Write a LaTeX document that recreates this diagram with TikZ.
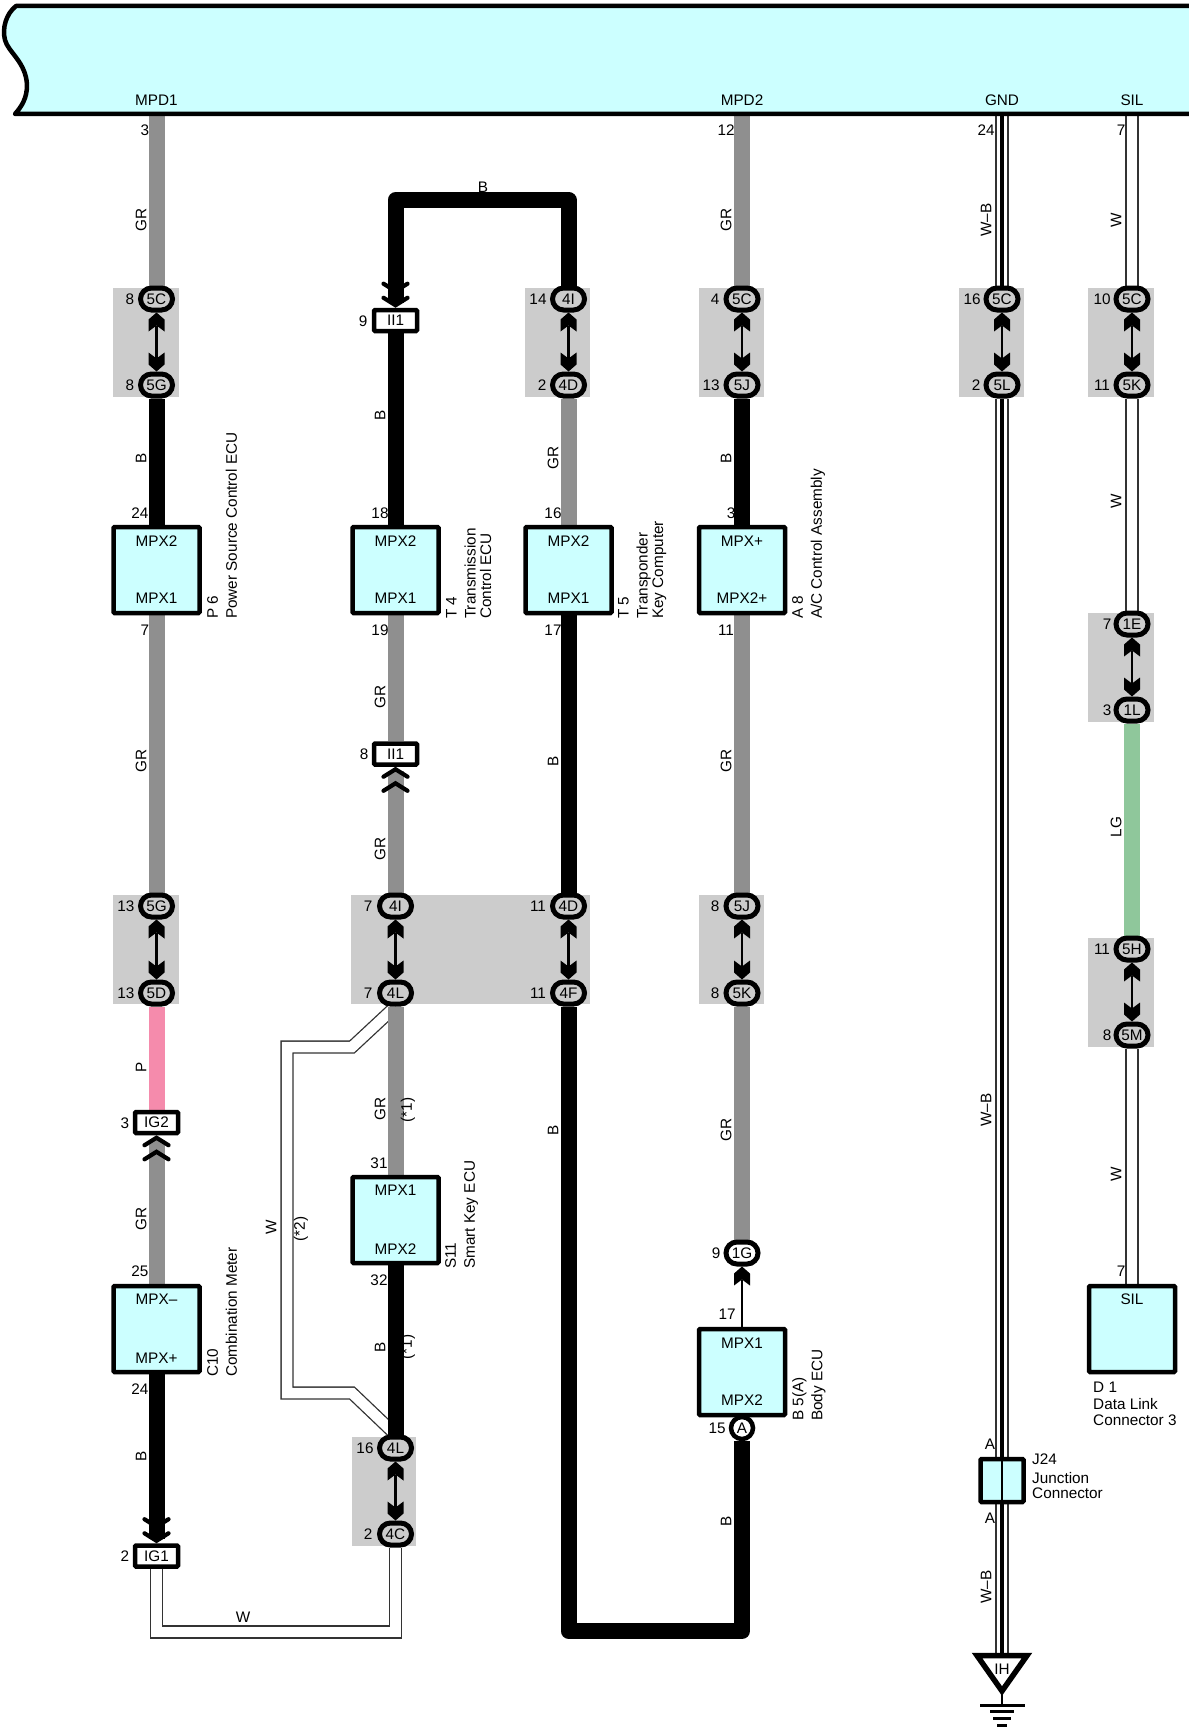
\documentclass[tikz,border=0pt]{standalone}
\usepackage{fontspec}
\setmainfont{Liberation Sans}
\usetikzlibrary{arrows.meta,backgrounds}
\definecolor{boxcyan}{HTML}{CCFFFF}
\definecolor{zonegray}{HTML}{CCCCCC}
\definecolor{wiregray}{HTML}{8F8F8F}
\definecolor{wirepink}{HTML}{F58BAC}
\definecolor{wiregreen}{HTML}{8FC79B}
\definecolor{wireedge}{HTML}{333333}
\pgfdeclarearrow{
  name=PlugTip,
  setup code={
    \pgfarrowssettipend{0pt}
    \pgfarrowssetbackend{-19pt}
    \pgfarrowssetvisualbackend{-13pt}
    \pgfarrowssetlineend{-13pt}
    \pgfarrowshullpoint{0pt}{0pt}
    \pgfarrowsupperhullpoint{-7pt}{8pt}
    \pgfarrowsupperhullpoint{-19pt}{8pt}
  },
  drawing code={
    \pgfpathmoveto{\pgfqpoint{0pt}{0pt}}
    \pgfpathlineto{\pgfqpoint{-7pt}{8pt}}
    \pgfpathlineto{\pgfqpoint{-19pt}{8pt}}
    \pgfpathlineto{\pgfqpoint{-13pt}{0pt}}
    \pgfpathlineto{\pgfqpoint{-19pt}{-8pt}}
    \pgfpathlineto{\pgfqpoint{-7pt}{-8pt}}
    \pgfpathclose
    \pgfusepathqfill
  }
}
\tikzset{
  every node/.style={font=\fontsize{15.3}{15.5}\selectfont, inner sep=0pt},
  barbs/.tip={Straight Barb[black,length=7.5pt,width=24pt,line width=4.2pt,line cap=round,sep=2pt]Straight Barb[black,length=7.5pt,width=24pt,line width=4.2pt,line cap=round]},
  zone/.style={fill=zonegray},
  wireGR/.style={draw=wiregray, line width=16pt},
  wireB/.style={draw=black, line width=16pt, line join=round},
  wireP/.style={draw=wirepink, line width=16pt},
  wireLG/.style={draw=wiregreen, line width=16pt},
  wireW/.style={draw=wireedge, line width=1.3pt, double=white, double distance=10.5pt},
  wireWB/.style={wireW, postaction={draw=black, line width=4pt, double=none}},
  plugline/.style={draw=black, line width=2.4pt},
  pairlink/.style={plugline, arrows=PlugTip-PlugTip},
  conn/.style={draw=black, fill=zonegray, line width=5pt, minimum width=32pt, minimum height=22pt, rounded corners=11pt},
  plugbox/.style={draw=black, fill=white, line width=4.5pt, minimum width=43pt, minimum height=21pt, rounded corners=1pt},
  ecubox/.style={draw=black, fill=boxcyan, line width=4.5pt, minimum width=86pt, minimum height=86pt, rounded corners=1pt, align=center},
  sidetext/.style={rotate=90, anchor=north west, align=left},
  wirelabel/.style={rotate=90},
}
\begin{document}
\begin{tikzpicture}[x=1pt,y=-1pt]
  \useasboundingbox (0,0) rectangle (1188,1728);
  % top unit
  \draw[fill=boxcyan, line width=4.5pt, line join=round] (1195,6) -- (16,6) .. controls (6,14) and (2,28) .. (5,40) .. controls (8,52) and (26,62) .. (27,85) .. controls (27,98) and (22,106) .. (15,114) -- (1195,114);
  \node (mpd1txt) at (156.5,100.5) {MPD1};
  \node (mpd2txt) at (742,100.5) {MPD2};
  \node (gndtxt) at (1002,100.5) {GND};
  \node (siltxt) at (1132,100.5) {SIL};
  \coordinate (mpd1) at (156.5,112);
  \coordinate (mpd2) at (742,112);
  \coordinate (gnd) at (1002,112);
  \coordinate (sil) at (1132,112);

  % first column
  \node (c1a) [conn] at (156.5,299) {5C};
  \node (c1b) [conn] at (156.5,385) {5G};
  \node (p6) [ecubox] at (156.5,570) {MPX2\\[41.5pt]MPX1};
  \node (p6txt) [sidetext] at (207,619) {P 6\\[3.5pt]Power Source Control ECU};
  \node (c1c) [conn] at (156.5,906) {5G};
  \node (c1d) [conn] at (156.5,993) {5D};
  \node (ig2) [plugbox] at (156.5,1122.5) {IG2};
  \node (c10) [ecubox] at (156.5,1329) {MPX--\\[43.5pt]MPX+};
  \node (c10txt) [sidetext] at (207,1377) {C10\\[3.5pt]Combination Meter};
  \node (ig1) [plugbox] at (156.5,1556) {IG1};

  % second column
  \node (ii1a) [plugbox] at (395.5,320.5) {II1};
  \node (t4) [ecubox] at (395.5,570) {MPX2\\[41.5pt]MPX1};
  \node (t4txt) [sidetext] at (446,619) {T 4\\[3.5pt]Transmission\\Control ECU};
  \node (ii1b) [plugbox] at (395.5,754) {II1};
  \node (c2a) [conn] at (395.5,906) {4I};
  \node (c2b) [conn] at (395.5,993) {4L};
  \node (s11) [ecubox] at (395.5,1220) {MPX1\\[43.5pt]MPX2};
  \node (s11txt) [sidetext] at (445,1269) {S11\\[3.5pt]Smart Key ECU};
  \node (c2c) [conn] at (395.5,1448) {4L};
  \node (c2d) [conn] at (395.5,1534) {4C};

  % third column
  \node (c3a) [conn] at (568.5,299) {4I};
  \node (c3b) [conn] at (568.5,385) {4D};
  \node (t5) [ecubox] at (568.5,570) {MPX2\\[41.5pt]MPX1};
  \node (t5txt) [sidetext] at (618,619) {T 5\\[3.5pt]Transponder\\Key Computer};
  \node (c3c) [conn] at (568.5,906) {4D};
  \node (c3d) [conn] at (568.5,993) {4F};

  % fourth column
  \node (c4a) [conn] at (742,299) {5C};
  \node (c4b) [conn] at (742,385) {5J};
  \node (a8) [ecubox] at (742,570) {MPX+\\[41.5pt]MPX2+};
  \node (a8txt) [sidetext] at (792,619) {A 8\\[3.5pt]A/C Control Assembly};
  \node (c4c) [conn] at (742,906) {5J};
  \node (c4d) [conn] at (742,993) {5K};
  \node (c4e) [conn, fill=white] at (742,1253) {1G};
  \node (b5) [ecubox] at (742,1372) {MPX1\\[41.5pt]MPX2};
  \node (b5txt) [sidetext] at (792,1421) {B 5(A)\\[3.5pt]Body ECU};
  \node (b5a) [draw=black, fill=white, line width=4.5pt, circle, minimum size=22pt] at (742,1428) {A};

  % fifth column
  \node (c5a) [conn] at (1002,299) {5C};
  \node (c5b) [conn] at (1002,385) {5L};
  \node (j24) [ecubox, minimum width=43pt, minimum height=43pt] at (1002,1480.5) {};
  \node (j24txt) [anchor=north west, align=left] at (1032,1453.5) {J24\\[3.5pt]Junction\\Connector};
  \coordinate (ihtop) at (1002,1656);

  % sixth column
  \node (c6a) [conn] at (1132,299) {5C};
  \node (c6b) [conn] at (1132,385) {5K};
  \node (c6c) [conn] at (1132,624) {1E};
  \node (c6d) [conn] at (1132,710) {1L};
  \node (c6e) [conn] at (1132,949) {5H};
  \node (c6f) [conn] at (1132,1035) {5M};
  \node (d1) [ecubox] at (1132,1329) {SIL\\[39.5pt]\strut};
  \node (d1txt) [anchor=north west, align=left] at (1093,1381.5) {D 1\\[2pt]Data Link\\Connector 3};

  % pin numbers
  \node (n1) at (145,130) {3};
  \node (n2) at (130,299) {8};
  \node (n3) at (130,385) {8};
  \node (n4) at (140,513) {24};
  \node (n5) at (145,630) {7};
  \node (n6) at (126,906) {13};
  \node (n7) at (126,993) {13};
  \node (n8) at (125,1123) {3};
  \node (n9) at (140,1271) {25};
  \node (n10) at (140,1389) {24};
  \node (n11) at (125,1556) {2};
  \node (n12) at (363,321) {9};
  \node (n13) at (380,513) {18};
  \node (n14) at (380,630) {19};
  \node (n15) at (364,754) {8};
  \node (n16) at (368,906) {7};
  \node (n17) at (368,993) {7};
  \node (n18) at (379,1163) {31};
  \node (n19) at (379,1280) {32};
  \node (n20) at (365,1448) {16};
  \node (n21) at (368,1534) {2};
  \node (n22) at (538,299) {14};
  \node (n23) at (542,385) {2};
  \node (n24) at (553,513) {16};
  \node (n25) at (553,630) {17};
  \node (n26) at (538,906) {11};
  \node (n27) at (538,993) {11};
  \node (n28) at (726,130) {12};
  \node (n29) at (715,299) {4};
  \node (n30) at (711,385) {13};
  \node (n31) at (731,513) {3};
  \node (n32) at (726,630) {11};
  \node (n33) at (715,906) {8};
  \node (n34) at (715,993) {8};
  \node (n35) at (716,1253) {9};
  \node (n36) at (727,1314) {17};
  \node (n37) at (717,1428) {15};
  \node (n38) at (986,130) {24};
  \node (n39) at (972,299) {16};
  \node (n40) at (976,385) {2};
  \node (n41) at (990,1444) {A};
  \node (n42) at (990,1518) {A};
  \node (n43) at (1121,130) {7};
  \node (n44) at (1102,299) {10};
  \node (n45) at (1102,385) {11};
  \node (n46) at (1107,624) {7};
  \node (n47) at (1107,710) {3};
  \node (n48) at (1102,949) {11};
  \node (n49) at (1107,1035) {8};
  \node (n50) at (1121,1271) {7};

  % wire colours
  \node (w1) [wirelabel] at (141,220) {GR};
  \node (w2) [wirelabel] at (141,458) {B};
  \node (w3) [wirelabel] at (141,761) {GR};
  \node (w4) [wirelabel] at (141,1067) {P};
  \node (w5) [wirelabel] at (141,1219) {GR};
  \node (w6) [wirelabel] at (141,1456) {B};
  \node (w7) at (483,187) {B};
  \node (w8) [wirelabel] at (380,415) {B};
  \node (w9) [wirelabel] at (380,697) {GR};
  \node (w10) [wirelabel] at (380,849) {GR};
  \node (w11) [wirelabel] at (380,1109) {GR};
  \node (w12) [wirelabel] at (408,1110) {(*1)};
  \node (w13) [wirelabel] at (380,1347) {B};
  \node (w14) [wirelabel] at (408,1347) {(*1)};
  \node (w15) [wirelabel] at (271,1227) {W};
  \node (w16) [wirelabel] at (301,1229) {(*2)};
  \node (w17) at (243,1617) {W};
  \node (w18) [wirelabel] at (553,458) {GR};
  \node (w19) [wirelabel] at (553,761) {B};
  \node (w20) [wirelabel] at (553,1130) {B};
  \node (w21) [wirelabel] at (726,220) {GR};
  \node (w22) [wirelabel] at (726,458) {B};
  \node (w23) [wirelabel] at (726,761) {GR};
  \node (w24) [wirelabel] at (726,1130) {GR};
  \node (w25) [wirelabel] at (726,1521) {B};
  \node (w26) [wirelabel] at (986,220) {W--B};
  \node (w27) [wirelabel] at (986,1110) {W--B};
  \node (w28) [wirelabel] at (986,1587) {W--B};
  \node (w29) [wirelabel] at (1116,220) {W};
  \node (w30) [wirelabel] at (1116,501) {W};
  \node (w31) [wirelabel] at (1116,827) {LG};
  \node (w32) [wirelabel] at (1116,1174) {W};

  \coordinate (btopr) at (568.5,200);
  \coordinate (btopl) at (395.5,200);
  \coordinate (bbotl) at (568.5,1631);
  \coordinate (bbotr) at (742,1631);
  \coordinate (wbotl) at (156.5,1632);
  \coordinate (wbotr) at (395.5,1632);
  \coordinate (wup1) at (352,1047);
  \coordinate (wup2) at (287,1047);
  \coordinate (wup3) at (287,1393);
  \coordinate (wup4) at (352,1393);

  \begin{pgfonlayer}{background}
    \fill[zone] (113,288) rectangle (179,397);
    \fill[zone] (525,288) rectangle (590,397);
    \fill[zone] (699,288) rectangle (764,397);
    \fill[zone] (959,288) rectangle (1024,397);
    \fill[zone] (1088,288) rectangle (1154,397);
    \fill[zone] (1088,613) rectangle (1154,722);
    \fill[zone] (1088,938) rectangle (1154,1047);
    \fill[zone] (113,895) rectangle (179,1004);
    \fill[zone] (351,895) rectangle (590,1004);
    \fill[zone] (699,895) rectangle (764,1004);
    \fill[zone] (352,1437) rectangle (416,1546);

    \draw[wireW] (c2b.south) -- (wup1) -- (wup2) -- (wup3) -- (wup4) -- (c2c.north);
    \draw[wireW] (ig1) -- (wbotl) -- (wbotr) -- (c2d);

    \draw[wireGR] (mpd1) -- (c1a);
    \draw[pairlink] (c1a) -- (c1b);
    \draw[wireB] (c1b) -- (p6);
    \draw[wireGR] (p6) -- (c1c);
    \draw[pairlink] (c1c) -- (c1d);
    \draw[wireP] (c1d) -- (ig2);
    \draw[wireGR, -{barbs}] (c10) -- (ig2);
    \draw[wireB, -{barbs}] (c10) -- (ig1);

    \draw[wireB, -{barbs}] (c3a) -- (btopr) -- (btopl) -- (ii1a);
    \draw[wireB] (ii1a) -- (t4);
    \draw[wireGR] (t4) -- (ii1b);
    \draw[wireGR, -{barbs}] (c2a) -- (ii1b);
    \draw[pairlink] (c2a) -- (c2b);
    \draw[wireGR] (c2b) -- (s11);
    \draw[wireB] (s11) -- (c2c);
    \draw[pairlink] (c2c) -- (c2d);

    \draw[pairlink] (c3a) -- (c3b);
    \draw[wireGR] (c3b) -- (t5);
    \draw[wireB] (t5) -- (c3c);
    \draw[pairlink] (c3c) -- (c3d);
    \draw[wireB] (c3d) -- (bbotl) -- (bbotr) -- (b5a);

    \draw[wireGR] (mpd2) -- (c4a);
    \draw[pairlink] (c4a) -- (c4b);
    \draw[wireB] (c4b) -- (a8);
    \draw[wireGR] (a8) -- (c4c);
    \draw[pairlink] (c4c) -- (c4d);
    \draw[wireGR] (c4d) -- (c4e);
    \draw[plugline, arrows=-PlugTip] (b5) -- (c4e);

    \draw[wireWB] (gnd) -- (c5a);
    \draw[pairlink] (c5a) -- (c5b);
    \draw[wireWB] (c5b) -- (j24);
    \draw[wireWB] (j24) -- (ihtop);

    \draw[wireW] (sil) -- (c6a);
    \draw[pairlink] (c6a) -- (c6b);
    \draw[wireW] (c6b) -- (c6c);
    \draw[pairlink] (c6c) -- (c6d);
    \draw[wireLG] (c6d) -- (c6e);
    \draw[pairlink] (c6e) -- (c6f);
    \draw[wireW] (c6f) -- (d1);
  \end{pgfonlayer}

  % junction and ground
  \draw[line width=1.5pt] (j24.north) -- (j24.south);
  \draw[line width=5.5pt, fill=white] (977,1655.5) -- (1027,1655.5) -- (1002,1691) -- cycle;
  \node (ihtxt) at (1002,1669) {IH};
  \draw[line width=2pt] (1002,1692) -- (1002,1705);
  \draw[line width=3pt] (980,1705) -- (1025,1705);
  \draw[line width=3pt] (990,1711) -- (1014,1711);
  \draw[line width=3pt] (993,1718) -- (1011,1718);
  \draw[line width=3pt] (997,1725) -- (1007,1725);
\end{tikzpicture}
\end{document}
